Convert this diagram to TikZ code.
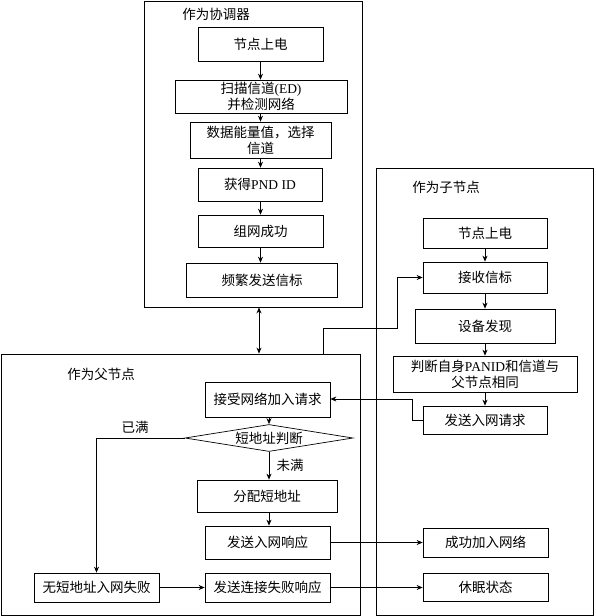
\documentclass[tikz,border=0pt]{standalone}
\usepackage{fontspec}
\setmainfont{Liberation Serif}
\newfontfamily\cjk{Noto Sans CJK SC}
\newfontfamily\latf{Liberation Serif}
\usetikzlibrary{arrows.meta,shapes.geometric}
\newcommand\lat[1]{{\latf #1}}
\begin{document}
\begin{tikzpicture}[x=1pt,y=-1pt,
  every node/.style={font=\cjk\fontsize{13.5}{16}\selectfont, inner sep=0pt},
  box/.style={draw, line width=0.7pt, align=center},
  outer/.style={draw, line width=0.9pt},
  dia/.style={draw, line width=0.7pt, diamond, aspect=6.2, minimum width=168pt, minimum height=27pt},
  arr/.style={line width=0.7pt, -{Stealth[length=6pt,width=5pt]}},
  dbl/.style={line width=0.7pt, {Stealth[length=6pt,width=5pt]}-{Stealth[length=6pt,width=5pt]}},
  ln/.style={line width=0.7pt}]
\useasboundingbox (0,0) rectangle (595,616);
% outer frames
\node[outer, minimum width=218pt, minimum height=306pt] (coord) at (253,154) {};
\node[outer, minimum width=359pt, minimum height=261pt] (parent) at (181,484.5) {};
\node[outer, minimum width=217pt, minimum height=447pt] (child) at (484.5,391.5) {};
% titles
\node (tcoord) at (216,14) {作为协调器};
\node (tchild) at (446,187) {作为子节点};
\node (tparent) at (101,374) {作为父节点};
% coordinator
\node[box, minimum width=125pt, minimum height=34pt] (c1) at (260.5,44) {节点上电};
\node[box, minimum width=172pt, minimum height=33pt] (c2) at (261,96.5) {扫描信道\lat{(ED)}\\并检测网络};
\node[box, minimum width=141pt, minimum height=36pt] (c3) at (260.5,140) {数据能量值，选择\\信道};
\node[box, minimum width=124pt, minimum height=33pt] (c4) at (260,184.5) {获得\lat{PND ID}};
\node[box, minimum width=125pt, minimum height=32pt] (c5) at (260.5,231) {组网成功};
\node[box, minimum width=151pt, minimum height=34pt] (c6) at (262,280) {频繁发送信标};
\draw[arr] (c1.south) -- (c1.south |- c2.north);
\draw[arr] (c1.south |- c2.south) -- (c1.south |- c3.north);
\draw[arr] (c1.south |- c3.south) -- (c1.south |- c4.north);
\draw[arr] (c1.south |- c4.south) -- (c1.south |- c5.north);
\draw[arr] (c1.south |- c5.south) -- (c1.south |- c6.north);
% child
\node[box, minimum width=124pt, minimum height=30pt] (k1) at (485,233) {节点上电};
\node[box, minimum width=124pt, minimum height=31pt] (k2) at (485,277.5) {接收信标};
\node[box, minimum width=140pt, minimum height=34pt] (k3) at (485,326) {设备发现};
\node[box, minimum width=184pt, minimum height=36pt] (k4) at (485,374) {判断自身\lat{PANID}和信道与\\父节点相同};
\node[box, minimum width=124pt, minimum height=28pt] (k5) at (485,420) {发送入网请求};
\node[box, minimum width=125pt, minimum height=29pt] (k6) at (485.5,542.5) {成功加入网络};
\node[box, minimum width=125pt, minimum height=28pt] (k7) at (485.5,587) {休眠状态};
\draw[arr] (k1.south) -- (k2.north);
\draw[arr] (k2.south) -- (k3.north);
\draw[arr] (k3.south) -- (k4.north);
\draw[arr] (k4.south) -- (k5.north);
% parent
\node[box, minimum width=125pt, minimum height=35pt] (p1) at (267.5,399.5) {接受网络加入请求};
\node[dia] (d) at (269,438) {短地址判断};
\node[box, minimum width=140pt, minimum height=32pt] (p2) at (267,496) {分配短地址};
\node[box, minimum width=125pt, minimum height=33pt] (p3) at (267.5,542.5) {发送入网响应};
\node[box, minimum width=125pt, minimum height=29pt] (p4) at (96.5,587.5) {无短地址入网失败};
\node[box, minimum width=125pt, minimum height=29pt] (p5) at (267.5,587.5) {发送连接失败响应};
\node (lfull) at (135,427) {已满};
\node (lnot) at (290,465) {未满};
\draw[arr] (p1.south -| d.north) -- (d.north);
\draw[arr] (d.west) -| (p4.north);
\draw[arr] (d.south) -- (d.south |- p2.north);
\draw[arr] (d.south |- p2.south) -- (d.south |- p3.north);
\draw[arr] (p3.east) -- (k6.west |- p3.east);
\draw[arr] (p4.east) -- (p5.west);
\draw[arr] (p5.east) -- (k7.west |- p5.east);
% cross connections
\draw[dbl] (259,0 |- coord.south) -- (259,0 |- parent.north);
\coordinate (b1) at (323,328);
\coordinate (b2) at (397,328);
\draw[arr] (b1 |- parent.north) -- (b1) -- (b2) |- (k2.west);
\coordinate (b3) at (412,399);
\draw[arr] (k5.west) -| (b3) -- (p1.east |- b3);
\end{tikzpicture}
\end{document}
